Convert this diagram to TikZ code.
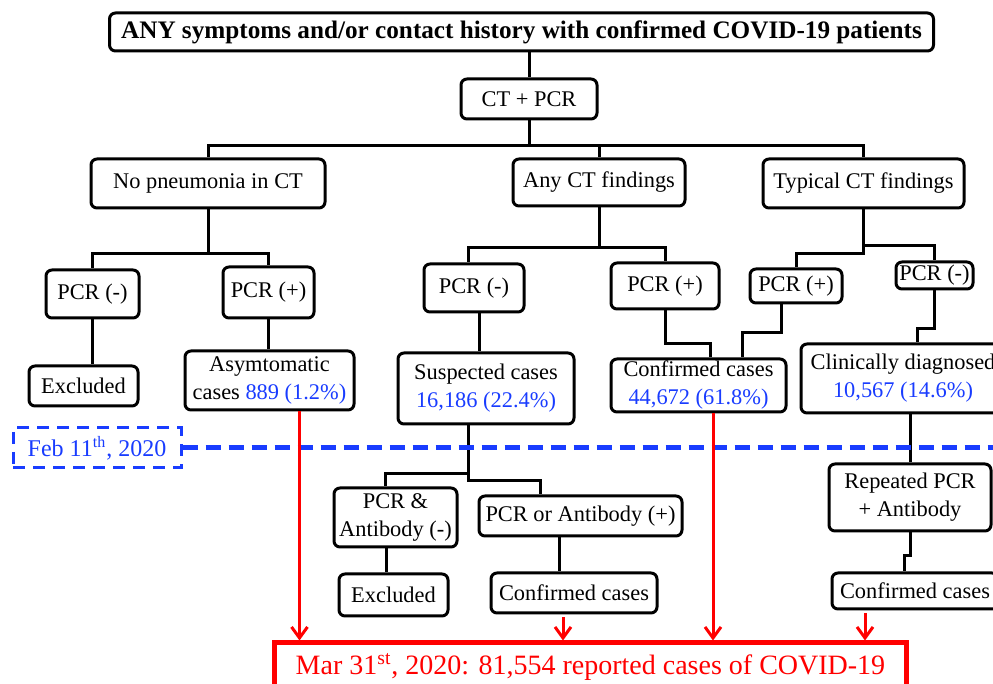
\documentclass[tikz,border=0pt]{standalone}
\usepackage{fontspec}
\setmainfont{Liberation Serif}
\usepackage{tikz}
\usetikzlibrary{calc}
\usetikzlibrary{arrows.meta}

\definecolor{dateblue}{RGB}{25,60,255}
\newdimen\unitpx
\unitpx=0.5pt

\begin{document}
\begin{tikzpicture}[x=0.5pt, y=-0.5pt,
  every node/.style={font=\fontsize{11.2}{14}\selectfont, align=center},
  box/.style={draw, line width=1.5pt, rounded corners=3pt, inner sep=0pt},
  titlebox/.style={box, font=\bfseries\fontsize{12.6}{15}\selectfont},
  datebox/.style={draw=dateblue, text=dateblue, line width=1.5pt, dash pattern=on 6pt off 4pt, inner sep=0pt, font=\fontsize{12}{14}\selectfont},
  reportbox/.style={draw=red, text=red, line width=2.5pt, inner sep=0pt, font=\fontsize{14}{17}\selectfont},
  link/.style={line width=1.5pt},
  dateline/.style={dateblue, line width=2.5pt, dash pattern=on 7.5pt off 4pt},
  toreport/.style={red, line width=1.5pt, -{Straight Barb[length=5.5pt, width=8pt]}}]

\useasboundingbox (0,0) rectangle (993,684);
\clip (0,0) rectangle (993,684);

% --- TOP ---
\node[titlebox, minimum width=824\unitpx, minimum height=38\unitpx] (title) at (521.5,32)
  {ANY symptoms and/or contact history with confirmed COVID-19 patients};
\node[box, minimum width=136\unitpx, minimum height=40\unitpx] (ctpcr) at (529,99) {CT + PCR};

% --- CT RESULTS ---
\node[box, minimum width=234\unitpx, minimum height=49\unitpx] (nopn) at (208,183.5) {No pneumonia in CT};
\node[box, minimum width=172\unitpx, minimum height=47\unitpx] (anyct) at (599,182.5) {Any CT findings};
\node[box, minimum width=201\unitpx, minimum height=49\unitpx] (typct) at (863.5,183.5) {Typical CT findings};

% --- LEFT BRANCH ---
\node[box, minimum width=93\unitpx, minimum height=48\unitpx] (pcrnA) at (92.5,294) {PCR (-)};
\node[box, minimum width=91\unitpx, minimum height=51\unitpx] (pcrpA) at (268.5,292.5) {PCR (+)};
\node[box, minimum width=109\unitpx, minimum height=40\unitpx] (exclA) at (83.5,386) {Excluded};
\node[box, minimum width=169\unitpx, minimum height=59\unitpx] (asym) at (269.5,380.5)
  {Asymtomatic\\cases \textcolor{dateblue}{889 (1.2\%)}};

% --- MIDDLE BRANCH ---
\node[box, minimum width=100\unitpx, minimum height=48\unitpx] (pcrnB) at (474,288) {PCR (-)};
\node[box, minimum width=108\unitpx, minimum height=46\unitpx] (pcrpB) at (665,286) {PCR (+)};
\node[box, minimum width=176\unitpx, minimum height=71\unitpx] (susp) at (486,388.5)
  {Suspected cases\\\textcolor{dateblue}{16,186 (22.4\%)}};
\node[box, minimum width=175\unitpx, minimum height=53\unitpx] (confB) at (698.5,385.5)
  {Confirmed cases\\\textcolor{dateblue}{44,672 (61.8\%)}};

% --- RIGHT BRANCH ---
\node[box, minimum width=92\unitpx, minimum height=34\unitpx] (pcrpC) at (796,286) {PCR (+)};
\node[box, minimum width=77\unitpx, minimum height=27\unitpx] (pcrnC) at (934.5,275.5) {PCR (-)};
\node[box, minimum width=204\unitpx, minimum height=69\unitpx] (clin) at (903,378.5)
  {Clinically diagnosed\\\textcolor{dateblue}{10,567 (14.6\%)}};
\node[box, minimum width=162\unitpx, minimum height=67\unitpx] (rep) at (910,497.5) {Repeated PCR\\+ Antibody};
\node[box, minimum width=166\unitpx, minimum height=36\unitpx] (confC) at (915,591) {Confirmed cases};

% --- AFTER SUSPECTED ---
\node[box, minimum width=123\unitpx, minimum height=59\unitpx] (pab) at (395.5,517.5) {PCR \&\\Antibody (-)};
\node[box, minimum width=203\unitpx, minimum height=40\unitpx] (poab) at (580.5,516) {PCR or Antibody (+)};
\node[box, minimum width=109\unitpx, minimum height=42\unitpx] (exclB) at (393.5,595) {Excluded};
\node[box, minimum width=166\unitpx, minimum height=40\unitpx] (confD) at (574,593) {Confirmed cases};

% --- DATES ---
\node[datebox, minimum width=168\unitpx, minimum height=40\unitpx] (feb) at (97,448) {Feb 11\textsuperscript{th}, 2020};
\node[reportbox, minimum width=632\unitpx, minimum height=48\unitpx] (mar) at (590.5,667)
  {Mar 31\textsuperscript{st}, 2020: 81,554 reported cases of COVID-19};

% --- TREE LINES ---
\draw[link] (title.south -| ctpcr.north) -- (ctpcr.north);
\draw[link] (ctpcr.south) -- ++(0,25) -| (nopn.north);
\draw[link] (ctpcr.south) -- ++(0,25) -| (anyct.north);
\draw[link] (ctpcr.south) -- ++(0,25) -| (typct.north);

\draw[link] (nopn.south) -- ++(0,44) -| (pcrnA.north);
\draw[link] (nopn.south) -- ++(0,44) -| (pcrpA.north);
\draw[link] (pcrnA.south) -- (pcrnA.south |- exclA.north);
\draw[link] (pcrpA.south) -- (pcrpA.south |- asym.north);

\draw[link] (anyct.south) -- ++(0,40) -| ($(pcrnB.north)+(-6,0)$);
\draw[link] (anyct.south) -- ++(0,40) -| (pcrpB.north);
\coordinate (nb) at ($(pcrnB.south)+(5,0)$);
\draw[link] (nb) -- (nb |- susp.north);
\draw[link] (pcrpB.south) -- ++(0,33) -| ($(confB.north)+(12,0)$);

\draw[link] (typct.south) -- ++(0,36) -| (pcrnC.north);
\draw[link] (typct.south) -- ++(0,44) -| (pcrpC.north);
\draw[link] ($(pcrpC.south)+(-15,0)$) -- ++(0,28) -| ($(confB.north)+(44,0)$);
\draw[link] (pcrnC.south) -- ++(0,38) -| ($(clin.north)+(14,0)$);
\draw[link] (rep.north |- clin.south) -- (rep.north);
\draw[link] (rep.south) -- ++(0,23) -| ($(confC.north)+(-11,0)$);

\coordinate (sj) at ($(susp.south)+(-18,0)$);
\draw[link] (sj) -- ++(0,55) -| ($(poab.north)+(-40,0)$);
\draw[link] (sj) -- ++(0,48) -| ($(pab.north)+(-10,0)$);
\coordinate (pb) at ($(pab.south)+(-9,0)$);
\draw[link] (pb) -- (pb |- exclB.north);
\coordinate (ob) at ($(poab.south)+(-21,0)$);
\draw[link] (ob) -- (ob |- confD.north);

% --- FEB 11 LINE ---
\coordinate (febend) at (1000,448);
\draw[dateline] (feb.east) -- (febend);

% --- TO MAR 31 ---
\coordinate (r1) at ($(asym.south)+(30,0)$);
\draw[toreport] (r1) -- (r1 |- mar.north);
\coordinate (r2) at ($(confB.south)+(14.5,0)$);
\draw[toreport] (r2) -- (r2 |- mar.north);
\coordinate (r3) at ($(confD.south)+(-11,3)$);
\draw[toreport] (r3) -- (r3 |- mar.north);
\coordinate (r4) at ($(confC.south)+(-50,3)$);
\draw[toreport] (r4) -- (r4 |- mar.north);

\end{tikzpicture}
\end{document}
